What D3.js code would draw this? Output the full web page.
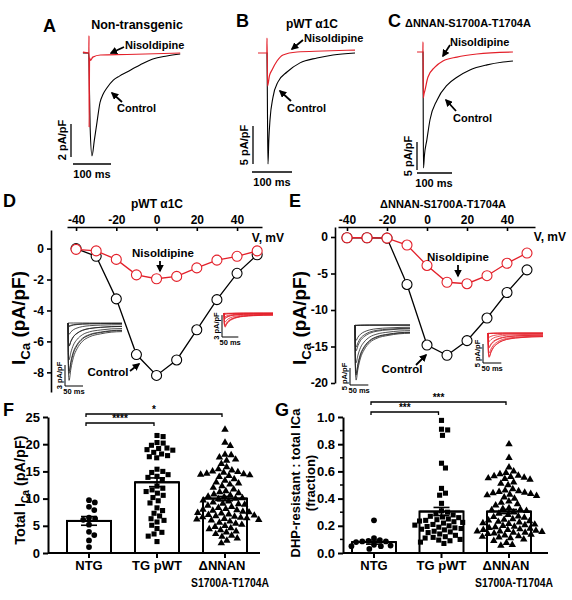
<!DOCTYPE html>
<html><head><meta charset="utf-8">
<script src="https://cdn.jsdelivr.net/npm/d3@7"></script>
<style>
body{margin:0;background:#fff}
text{font-family:"Liberation Sans",Arial,Helvetica,sans-serif;font-weight:bold;fill:#000}
</style>
</head><body>
<svg id="c" width="572" height="600" xmlns="http://www.w3.org/2000/svg"></svg>
<script>
// ---------------- DATA ----------------
// Panel A-C example traces (time ms, current pA/pF)
const A_ctrl_t = [-16,-0.5,0.5,3,7.9,14,21,29,37,46,64,80,100,134,168,205,240];
const A_ctrl_I = [0,0,-1.2,-4.5,-6.24,-5.3,-4.2,-3.0,-2.5,-2.15,-1.64,-1.4,-1.15,-0.73,-0.36,-0.18,-0.06];
const A_nis_t  = [-16,-2,-0.4,0,0.4,1.5,4,10,30,100,240];
const A_nis_I  = [0.05,0,0,1.05,-4.5,-0.3,-0.45,-0.25,-0.12,-0.09,0];
const B_ctrl_t = [-1,0,1.2,2.5,4.5,7.5,15,27.5,50,82.5,125,165,220];
const B_ctrl_I = [0,0,-8,-14.6,-11.5,-8.8,-5.8,-3.8,-2.5,-1.3,-0.66,-0.26,0];
const B_nis_t  = [-22.5,-1,-0.3,0,1.5,6,12.5,25,40,75,140,220];
const B_nis_I  = [0,0,0,1.97,-4.34,-3.0,-2.24,-1.05,-0.26,0.13,0.26,0.39];
const C_ctrl_t = [-1,0,0.7,1.4,4,11,20,40,69,97,134,183,229,257];
const C_ctrl_I = [0,0,-12,-20.7,-18.5,-15.7,-12.1,-8.6,-5.9,-4.5,-3.2,-2.3,-1.8,-1.6];
const C_nis_t  = [-17,-1,-0.3,0,1,2.5,5.7,14,34,57,97,154,257];
const C_nis_I  = [0,0,0,1.8,-8.2,-7.6,-6.8,-4.5,-2.7,-1.6,-0.9,-0.36,0];

// Panels D, E: I-V relations
const voltages = [-40,-30,-20,-10,0,10,20,30,40,50];
const D_ctrl = [0,-0.5,-3.25,-6.85,-8.2,-7.2,-5.25,-3.3,-1.6,-0.4];
const D_nis  = [-0.05,-0.15,-0.7,-1.7,-1.95,-1.8,-1.25,-0.75,-0.5,-0.15];
const E_ctrl = [-0.1,-0.1,-0.15,-6.5,-14.8,-16.2,-14.2,-11.1,-7.6,-4.5];
const E_nis  = [-0.1,-0.1,-0.15,-1.1,-3.9,-6.2,-6.4,-5.3,-3.6,-2.2];
const D_xticks = [-40,-20,0,20,40];
const D_yticks = [0,-2,-4,-6,-8];
const E_yticks = [0,-5,-10,-15,-20];
// normalized current-trace time course used for inset families (ms, fraction of peak)
const inset_t = [0,1,3,8,15,25,40,60,90,120,150];
const inset_f = [0,0.8,1.0,0.8,0.6,0.45,0.32,0.24,0.19,0.16,0.15];

// Panels F, G: scatter/bar
const groups = ["NTG","TG pWT","\u0394NNAN"];
const groups2 = ["","","S1700A-T1704A"];
const F_NTG = [9.7,9.3,8.5,7.9,6.5,6.3,6.1,5.2,3.9,3.3,2.3,1.1];
const F_pWT = [21.6,21.4,20.3,20.2,19.8,19.3,19.2,19.0,18.9,18.5,18.2,17.9,17.7,17.5,
  15.4,15.0,14.8,14.4,14.1,13.9,13.5,12.3,11.9,11.6,11.3,11.0,10.6,10.2,9.6,9.2,
  8.3,7.8,7.3,6.8,6.3,6.0,5.7,5.1,4.5,3.8,3.5,3.1,2.1];
const F_dN = [22.7,20.3,19.7,18.1,18.0,17.6,17.2,17.0,16.4,15.8,15.4,15.2,15.0,14.9,14.8,14.6,14.5,14.4,14.3,14.2,14.0,
  13.6,13.3,13.0,12.8,12.6,12.3,12.0,11.7,11.4,11.2,11.0,10.8,10.6,10.4,10.3,10.1,10.0,
  9.9,9.7,9.5,9.3,9.1,9.0,8.9,8.7,8.5,8.3,8.1,8.0,7.9,7.8,7.6,7.5,7.4,7.3,7.1,7.0,6.9,6.8,6.7,6.6,6.5,6.4,6.3,6.2,6.1,6.0,
  5.8,5.6,5.4,5.2,5.0,4.8,4.6,4.4,4.2,4.0,3.8,3.5,3.2,3.0,2.7,2.3,1.8];
const F_mean = [5.9,13.0,10.0];
const F_sem  = [0.8,0.8,0.4];
const F_ticks = [0,5,10,15,20,25];
const G_NTG = [0.24,0.11,0.095,0.09,0.085,0.085,0.08,0.06,0.055,0.05,0.05,0.03];
const G_pWT = [0.975,0.91,0.905,0.865,0.66,0.625,0.475,0.44,0.425,0.365,0.31,0.30,0.29,0.28,0.27,0.265,0.26,0.25,0.245,0.24,0.235,
  0.23,0.225,0.22,0.21,0.205,0.20,0.195,0.19,0.185,0.18,0.175,0.17,0.16,0.155,0.15,0.14,0.13,0.12,0.115,0.11,0.10,0.095,0.09,0.08,0.07];
const G_dN = [0.80,0.70,0.63,0.60,0.59,0.58,0.57,0.565,0.56,0.555,0.55,0.545,0.54,0.52,0.51,0.50,0.47,0.46,0.455,0.45,0.445,0.44,0.435,
  0.43,0.425,0.42,0.41,0.40,0.38,0.37,0.36,0.35,0.33,0.325,0.32,0.315,0.31,0.30,0.29,0.28,0.27,0.265,0.26,0.25,0.245,0.24,0.235,0.23,
  0.225,0.22,0.215,0.21,0.205,0.20,0.195,0.19,0.185,0.18,0.175,0.17,0.17,0.165,0.16,0.16,0.155,0.15,0.15,0.145,0.14,0.135,0.13,0.125,
  0.12,0.115,0.11,0.10,0.09,0.075,0.06,0.055];
const G_mean = [0.08,0.305,0.305];
const G_sem  = [0.015,0.03,0.015];
const G_ticks = [0,0.2,0.4,0.6,0.8,1.0];
const G_minor = [0.1,0.3,0.5,0.7,0.9];

// ---------------- DRAW ----------------
const RED = "#e3202a";
const svg = d3.select("#c");
svg.append("defs").append("marker").attr("id","ah").attr("viewBox","0 0 10 10")
  .attr("refX",8).attr("refY",5).attr("markerWidth",4.2).attr("markerHeight",4.2).attr("orient","auto")
  .append("path").attr("d","M0,0L10,5L0,10z").attr("fill","#000");

function txt(x,y,s,size,anchor){return svg.append("text").attr("x",x).attr("y",y).attr("font-size",size).attr("text-anchor",anchor||"start").text(s);}
function arrow(x1,y1,x2,y2){svg.append("line").attr("x1",x1).attr("y1",y1).attr("x2",x2).attr("y2",y2)
  .attr("stroke","#000").attr("stroke-width",1.8).attr("marker-end","url(#ah)");}
function seg(x1,y1,x2,y2,w){svg.append("line").attr("x1",x1).attr("y1",y1).attr("x2",x2).attr("y2",y2).attr("stroke","#000").attr("stroke-width",w||1.3);}
function rtext(x,y,s,size){return svg.append("text").attr("transform",`translate(${x},${y}) rotate(-90)`).attr("font-size",size).attr("text-anchor","middle").text(s);}
function trace(t,I,xs,ys,col,w){
  svg.append("path").datum(d3.zip(t,I)).attr("fill","none").attr("stroke",col).attr("stroke-width",w||1.1)
   .attr("d",d3.line().x(d=>xs(d[0])).y(d=>ys(d[1])).curve(d3.curveMonotoneX));
}

// Panel A
{
  const xs=d3.scaleLinear().domain([0,100]).range([89,127]);
  const ys=d3.scaleLinear().domain([0,-2]).range([53,86]);
  trace(A_ctrl_t,A_ctrl_I,xs,ys,"#000");
  trace(A_nis_t,A_nis_I,xs,ys,RED,1.2);
  txt(43,32,"A",18); txt(137,29,"Non-transgenic",12.5,"middle");
  txt(125,49,"Nisoldipine",11); arrow(124,47,111,53);
  txt(117,112,"Control",11); arrow(122,102,112,93);
  seg(71,124,71,124+(ys(-2)-ys(0)),1.3); rtext(66,140,"2 pA/pF",11);
  seg(73,164,73+(xs(100)-xs(0)),164,1.3); txt(92,178,"100 ms",11,"middle");
}
// Panel B
{
  const xs=d3.scaleLinear().domain([0,100]).range([267,307]);
  const ys=d3.scaleLinear().domain([0,-5]).range([53,91]);
  trace(B_ctrl_t,B_ctrl_I,xs,ys,"#000");
  trace(B_nis_t,B_nis_I,xs,ys,RED,1.2);
  txt(236,27,"B",18); txt(312,28,"pWT \u03b11C",12,"middle");
  txt(304,42,"Nisoldipine",11); arrow(303,40,292,49);
  txt(287,112,"Control",11); arrow(291,101,280,91);
  seg(253,126,253,126+(ys(-5)-ys(0)),1.3); rtext(248,145,"5 pA/pF",11);
  seg(252,172,252+(xs(100)-xs(0)),172,1.3); txt(272,186,"100 ms",11,"middle");
}
// Panel C
{
  const xs=d3.scaleLinear().domain([0,100]).range([423,458]);
  const ys=d3.scaleLinear().domain([0,-5]).range([52,80]);
  trace(C_ctrl_t,C_ctrl_I,xs,ys,"#000");
  trace(C_nis_t,C_nis_I,xs,ys,RED,1.2);
  txt(388,27,"C",18); txt(405,27,"\u0394NNAN-S1700A-T1704A",11);
  txt(450,46,"Nisoldipine",11); arrow(450,45,443,56);
  txt(453,122,"Control",11); arrow(456,111,446,100);
  seg(417,142,417,142+(ys(-5)-ys(0)),1.3); rtext(412,156,"5 pA/pF",11);
  seg(417,173,417+(xs(100)-xs(0)),173,1.3); txt(434,187,"100 ms",11,"middle");
}

function ivPanel(o){
  const xs=d3.scaleLinear().domain(o.xdom).range(o.xr);
  const ys=d3.scaleLinear().domain(o.ydom).range(o.yr);
  const gx=svg.append("g").attr("transform",`translate(0,${o.xr2})`)
    .call(d3.axisTop(xs).tickValues(D_xticks).tickSizeInner(-4).tickSizeOuter(0).tickPadding(3).tickFormat(d=>String(d)));
  gx.selectAll("text").attr("font-size",12).attr("font-family",null).attr("font-weight","bold").attr("y",-3).attr("dy","0");
  gx.selectAll("path,line").attr("stroke-width",1.6);
  const gy=svg.append("g").attr("transform",`translate(${o.yx},0)`)
    .call(d3.axisLeft(ys).tickValues(o.yticks).tickSize(4).tickSizeOuter(0).tickFormat(d=>String(d)));
  gy.selectAll("text").attr("font-size",12).attr("font-family",null).attr("font-weight","bold");
  gy.selectAll("path,line").attr("stroke-width",1.6);
  // insets
  o.insets.forEach(ins=>{
    const ix=d3.scaleLinear().domain([0,150]).range([ins.x,ins.x+ins.w]);
    const iy=d3.scaleLinear().domain([0,-1]).range([ins.y,ins.y+ins.k]);
    ins.peaks.forEach(pk=>{
      svg.append("path").datum(d3.zip(inset_t,inset_f)).attr("fill","none").attr("stroke",ins.col).attr("stroke-width",0.8)
        .attr("d",d3.line().x(d=>ix(d[0])).y(d=>iy(pk*d[1])).curve(d3.curveMonotoneX));
    });
    const bl=iy(-ins.bar)-iy(0);
    seg(ins.sx,ins.sy-bl,ins.sx,ins.sy,1); seg(ins.sx,ins.sy,ins.sx+(ix(50)-ix(0)),ins.sy,1);
    rtext(ins.sx-3,ins.sy-bl/2,ins.bar+" pA/pF",7.5);
    txt(ins.sx+(ix(50)-ix(0))/2,ins.sy+8,"50 ms",7.5,"middle");
  });
  const line=d3.line().x(d=>xs(d[0])).y(d=>ys(d[1]));
  [[o.ctrl,"#000"],[o.nis,RED]].forEach(([arr,col])=>{
    const pts=d3.zip(voltages,arr);
    svg.append("path").datum(pts).attr("d",line).attr("fill","none").attr("stroke",col).attr("stroke-width",1.3);
    svg.append("g").selectAll("circle").data(pts).join("circle").attr("cx",d=>xs(d[0])).attr("cy",d=>ys(d[1]))
      .attr("r",5).attr("fill","#fff").attr("stroke",col).attr("stroke-width",1.1);
  });
}
ivPanel({xdom:[-44.5,52.4],xr:[67,262],xr2:227,ydom:[1.2,-9.27],yr:[230,392],yx:51,yticks:D_yticks,ctrl:D_ctrl,nis:D_nis,
  insets:[{x:68,w:54,y:323,k:7.0,col:"#222",peaks:D_ctrl,bar:3,sx:65,sy:386},
          {x:224,w:49,y:313,k:7.3,col:RED,peaks:D_nis,bar:3,sx:222,sy:337}]});
ivPanel({xdom:[-44.5,54],xr:[338,535],xr2:227,ydom:[1.37,-20],yr:[227,383],yx:335,yticks:E_yticks,ctrl:E_ctrl,nis:E_nis,
  insets:[{x:355,w:55,y:325,k:3.4,col:"#222",peaks:E_ctrl,bar:5,sx:350,sy:385},
          {x:488,w:55,y:333,k:3.8,col:RED,peaks:E_nis,bar:5,sx:483,sy:363}]});
txt(3,207,"D",18); txt(157,208,"pWT \u03b11C",12,"middle"); txt(284,242,"V, mV",12,"end");
txt(289,207,"E",18); txt(443,208,"\u0394NNAN-S1700A-T1704A",11,"middle"); txt(566,241,"V, mV",12,"end");
txt(163,257,"Nisoldipine",11.5,"middle"); arrow(160,261,160,271);
txt(108,376,"Control",11.5,"middle"); arrow(130,371,139,364);
txt(458,261,"Nisoldipine",11.5,"middle"); arrow(458,265,458,276);
txt(402,373,"Control",11.5,"middle"); arrow(416,365,426,355);
function icaLabel(x,y,size,pre){
  const t=svg.append("text").attr("transform",`translate(${x},${y}) rotate(-90)`).attr("font-size",size).attr("text-anchor","middle");
  t.append("tspan").text(pre+"I");
  t.append("tspan").attr("font-size",size*0.7).attr("dy",size*0.28).text("Ca");
  t.append("tspan").attr("dy",-size*0.28).text(" (pA/pF)");
}
icaLabel(25,318,19,"");
icaLabel(306,318,19,"");

// Panels F, G
function scatterPanel(o){
  const xs=d3.scalePoint().domain(groups).range(o.xr);
  const ys=d3.scaleLinear().domain(o.ydom).range([553,417]);
  const gy=svg.append("g").attr("transform",`translate(${o.ax},0)`)
    .call(d3.axisLeft(ys).tickValues(o.ticks).tickSize(5).tickSizeOuter(0).tickFormat(o.fmt));
  gy.selectAll("text").attr("font-size",13).attr("font-family",null).attr("font-weight","bold");
  gy.selectAll("path,line").attr("stroke-width",2);
  if(o.minor) svg.append("g").selectAll("line").data(o.minor).join("line").attr("x1",o.ax-3).attr("x2",o.ax)
      .attr("y1",d=>ys(d)).attr("y2",d=>ys(d)).attr("stroke","#000").attr("stroke-width",1.5);
  seg(o.ax,553,o.axEnd,553,2);
  groups.forEach((g,i)=>{ seg(xs(g),553,xs(g),558,2);
    txt(xs(g)+(i==2?-3:0),570,g,13,"middle");
    if(groups2[i]) txt(xs(g)+5,587,groups2[i],13,"middle").attr("textLength",78).attr("lengthAdjust","spacingAndGlyphs");
  });
  const bw=44;
  svg.append("g").selectAll("rect").data(groups).join("rect").attr("x",g=>xs(g)-bw/2).attr("width",bw)
    .attr("y",(g,i)=>ys(o.mean[i])).attr("height",(g,i)=>553-ys(o.mean[i]))
    .attr("fill","#fff").attr("stroke","#000").attr("stroke-width",2);
  const dd=6.2;
  o.sets.forEach((vals,i)=>{
    const cx=xs(groups[i]);
    const sorted=vals.map(v=>({v,y:ys(v)})).sort((a,b)=>a.y-b.y);
    const placed=[];
    for(const p of sorted){
      const near=placed.filter(q=>Math.abs(q.y-p.y)<dd);
      const c=[0]; near.forEach(q=>{const dx=Math.sqrt(dd*dd-(q.y-p.y)**2); c.push(q.x+dx,q.x-dx);});
      c.sort((a,b)=>Math.abs(a)-Math.abs(b));
      for(const x of c){ if(near.every(q=>(q.x-x)**2+(q.y-p.y)**2>=dd*dd-0.01)){p.x=x;break;} }
      placed.push(p);
    }
    const sym=[d3.symbolCircle,d3.symbolSquare,d3.symbolTriangle][i];
    const sz=[26,26,24][i];
    svg.append("g").selectAll("path").data(placed).join("path")
      .attr("transform",p=>`translate(${cx+p.x},${p.y})`).attr("d",d3.symbol(sym,sz)).attr("fill","#000");
    const m=o.mean[i], s=o.sem[i];
    seg(cx,ys(m-s),cx,ys(m+s),1.6); seg(cx-8,ys(m+s),cx+8,ys(m+s),1.6); seg(cx-8,ys(m-s),cx+8,ys(m-s),1.6);
    seg(cx-bw/2,ys(m),cx+bw/2,ys(m),2);
  });
  const b=(i,j,y,s)=>{ const x1=xs(groups[i])-3,x2=xs(groups[j])-3;
    svg.append("path").attr("d",`M${x1},${y+3}V${y}H${x2}V${y+3}`).attr("fill","none").attr("stroke","#000").attr("stroke-width",1.3);
    txt((x1+x2)/2,y-1.5,s,10,"middle"); };
  b(0,2,o.b1,o.s1); b(0,1,o.b2,o.s2);
}
scatterPanel({xr:[89,225],ydom:[0,25],ax:48,axEnd:260,ticks:F_ticks,fmt:d=>String(d),mean:F_mean,sem:F_sem,
  sets:[F_NTG,F_pWT,F_dN],b1:414,s1:"*",b2:423,s2:"****"});
scatterPanel({xr:[374,509],ydom:[0,1],ax:343,axEnd:548,ticks:G_ticks,minor:G_minor,fmt:d3.format(".1f"),mean:G_mean,sem:G_sem,
  sets:[G_NTG,G_pWT,G_dN],b1:402,s1:"***",b2:412,s2:"***"});
txt(3,416,"F",18); txt(275,416,"G",18);
icaLabel(25,490,14.5,"Total ");
rtext(300,483,"DHP-resistant : total ICa",13);
rtext(315,483,"(fraction)",13);
</script></body></html>
